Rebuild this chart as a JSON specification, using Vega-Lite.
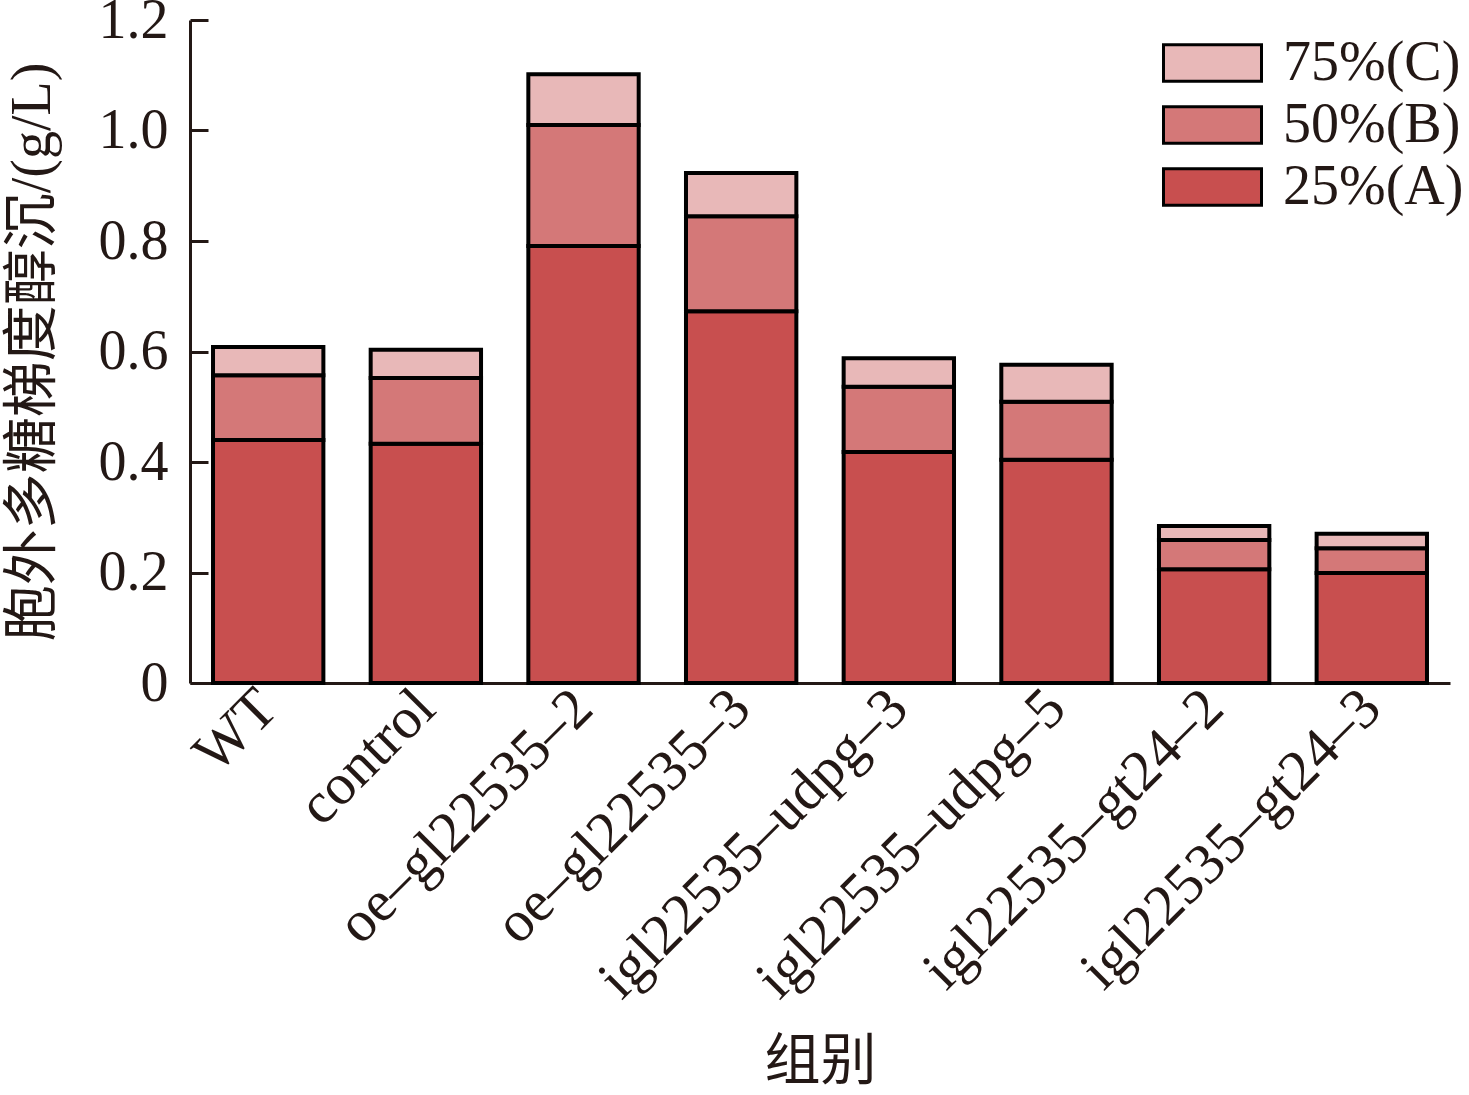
{
  "$schema": "https://vega.github.io/schema/vega-lite/v6.json",
  "autosize": {"type": "none"},
  "padding": {"left": 190, "top": 20, "right": 19, "bottom": 412},
  "width": 1260,
  "height": 663,
  "background": "white",
  "data": {
    "values": [
      {"group": "WT", "level": "25%(A)", "value": 0.440},
      {"group": "WT", "level": "50%(B)", "value": 0.117},
      {"group": "WT", "level": "75%(C)", "value": 0.051},
      {"group": "control", "level": "25%(A)", "value": 0.433},
      {"group": "control", "level": "50%(B)", "value": 0.119},
      {"group": "control", "level": "75%(C)", "value": 0.051},
      {"group": "oe–gl22535–2", "level": "25%(A)", "value": 0.791},
      {"group": "oe–gl22535–2", "level": "50%(B)", "value": 0.219},
      {"group": "oe–gl22535–2", "level": "75%(C)", "value": 0.092},
      {"group": "oe–gl22535–3", "level": "25%(A)", "value": 0.673},
      {"group": "oe–gl22535–3", "level": "50%(B)", "value": 0.172},
      {"group": "oe–gl22535–3", "level": "75%(C)", "value": 0.078},
      {"group": "igl22535–udpg–3", "level": "25%(A)", "value": 0.418},
      {"group": "igl22535–udpg–3", "level": "50%(B)", "value": 0.118},
      {"group": "igl22535–udpg–3", "level": "75%(C)", "value": 0.052},
      {"group": "igl22535–udpg–5", "level": "25%(A)", "value": 0.404},
      {"group": "igl22535–udpg–5", "level": "50%(B)", "value": 0.105},
      {"group": "igl22535–udpg–5", "level": "75%(C)", "value": 0.067},
      {"group": "igl22535–gt24–2", "level": "25%(A)", "value": 0.206},
      {"group": "igl22535–gt24–2", "level": "50%(B)", "value": 0.053},
      {"group": "igl22535–gt24–2", "level": "75%(C)", "value": 0.025},
      {"group": "igl22535–gt24–3", "level": "25%(A)", "value": 0.199},
      {"group": "igl22535–gt24–3", "level": "50%(B)", "value": 0.045},
      {"group": "igl22535–gt24–3", "level": "75%(C)", "value": 0.026}
    ]
  },
  "mark": {"type": "bar", "stroke": "black", "strokeWidth": 4},
  "encoding": {
    "x": {
      "field": "group",
      "type": "nominal",
      "sort": null,
      "scale": {"paddingInner": 0.3, "paddingOuter": 0.146},
      "axis": {
        "title": "组别",
        "titleFontSize": 56,
        "titleFontWeight": "normal",
        "titleY": 378,
        "titleBaseline": "middle",
        "labelAngle": -45,
        "labelAlign": "right",
        "labelBaseline": "middle",
        "labelFontSize": 58,
        "labelPadding": 16,
        "labelLimit": 0,
        "ticks": false,
        "domainColor": "#231815",
        "domainWidth": 3
      }
    },
    "y": {
      "field": "value",
      "type": "quantitative",
      "stack": "zero",
      "scale": {"domain": [0, 1.2], "nice": false},
      "axis": {
        "title": "胞外多糖梯度醇沉/(g/L)",
        "titleFontSize": 56,
        "titleFontWeight": "normal",
        "titleX": -158,
        "titleBaseline": "middle",
        "values": [0, 0.2, 0.4, 0.6, 0.8, 1.0, 1.2],
        "labelExpr": "datum.value == 0 ? '0' : format(datum.value, '.1f')",
        "labelFontSize": 56,
        "labelPadding": 40,
        "tickSize": -18,
        "tickWidth": 3,
        "tickColor": "#231815",
        "domainColor": "#231815",
        "domainWidth": 3,
        "grid": false
      }
    },
    "color": {
      "field": "level",
      "type": "nominal",
      "scale": {
        "domain": ["75%(C)", "50%(B)", "25%(A)"],
        "range": ["#e8b8b8", "#d47878", "#c84f4f"]
      },
      "legend": {
        "title": null,
        "orient": "none",
        "legendX": 972,
        "legendY": 22,
        "symbolType": "M-1,-0.37H1V0.37H-1Z",
        "symbolSize": 9604,
        "symbolStrokeColor": "black",
        "symbolStrokeWidth": 3,
        "clipHeight": 42,
        "labelFontSize": 56,
        "labelOffset": 20,
        "labelLimit": 0,
        "rowPadding": 6,
        "labelColor": "#231815"
      }
    },
    "order": {"field": "level", "sort": "ascending"}
  },
  "config": {
    "font": "Liberation Serif, Noto Sans CJK SC",
    "view": {"stroke": null},
    "axis": {"labelColor": "#231815", "titleColor": "#231815"}
  }
}
